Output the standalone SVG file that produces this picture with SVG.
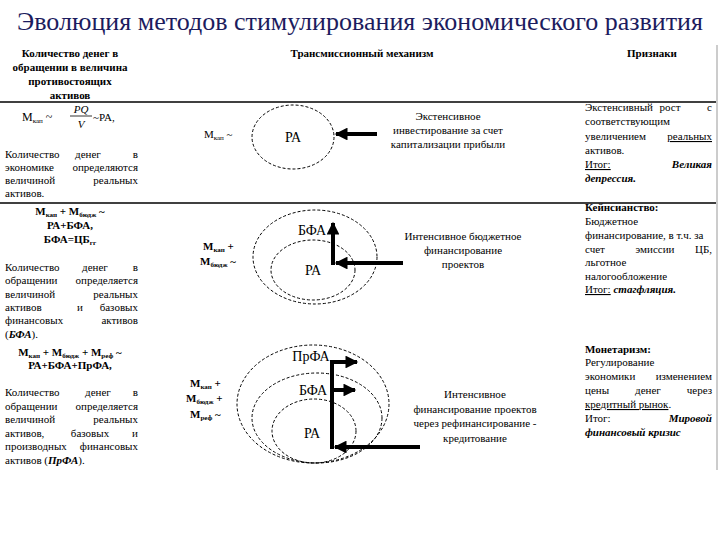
<svg xmlns="http://www.w3.org/2000/svg" width="720" height="540" viewBox="0 0 720 540" font-family="Liberation Serif">
<defs>
<marker id="ah" viewBox="0 0 10 10" refX="9" refY="5" markerWidth="3.4" markerHeight="3.2" orient="auto"><path d="M0,0 L10,5 L0,10 z" fill="#000"/></marker>
</defs>
<rect width="720" height="540" fill="#fff"/>
<text x="360" y="30" text-anchor="middle" font-family="Liberation Serif" font-size="26" fill="#1c1c5e">Эволюция методов стимулирования экономического развития</text>
<g id="frame" stroke="#000" stroke-width="1.5">
<line x1="0" y1="102" x2="716" y2="102"/>
<line x1="0" y1="203" x2="716" y2="203"/>
<line x1="717" y1="45" x2="717" y2="470" stroke="#999" stroke-width="1"/>
</g>
<g id="headers" font-size="11" font-weight="bold">
<text text-anchor="middle" font-family="Liberation Serif"><tspan x="70" y="57">Количество денег в</tspan><tspan x="70" y="71">обращении в величина</tspan><tspan x="70" y="85">противостоящих</tspan><tspan x="70" y="99">активов</tspan></text>
<text x="362" y="57" text-anchor="middle" font-family="Liberation Serif">Трансмиссионный механизм</text>
<text x="652" y="57" text-anchor="middle" font-family="Liberation Serif">Признаки</text>
</g>
<g id="left1" font-size="11">
<text x="22" y="121" font-size="12" font-family="Liberation Serif">M<tspan font-size="7" dy="2">кап</tspan><tspan dy="-2"> ~</tspan></text>
<text x="81" y="113" text-anchor="middle" font-style="italic" font-family="Liberation Serif">PQ</text>
<line x1="70" y1="116" x2="92" y2="116" stroke="#000" stroke-width="0.8"/>
<text x="81" y="128" text-anchor="middle" font-style="italic" font-family="Liberation Serif">V</text>
<text x="93" y="121" font-family="Liberation Serif">~PA,</text>
<text x="5" y="158" font-family="Liberation Serif">Количество</text><text x="88" y="158" text-anchor="middle" font-family="Liberation Serif">денег</text><text x="138" y="158" text-anchor="end" font-family="Liberation Serif">в</text>
<text x="5" y="171" font-family="Liberation Serif">экономике</text><text x="138" y="171" text-anchor="end" font-family="Liberation Serif">определяются</text>
<text x="5" y="184" font-family="Liberation Serif">величиной</text><text x="138" y="184" text-anchor="end" font-family="Liberation Serif">реальных</text>
<text x="5" y="197" font-family="Liberation Serif">активов.</text>
</g>
<g id="left2" font-size="11">
<text x="70" y="215" text-anchor="middle" font-weight="bold" font-family="Liberation Serif">M<tspan font-size="7" dy="2">кап</tspan><tspan dy="-2"> + M</tspan><tspan font-size="7" dy="2">бюдж</tspan><tspan dy="-2"> ~</tspan></text>
<text x="70" y="229" text-anchor="middle" font-weight="bold" font-family="Liberation Serif">РА+БФА,</text>
<text x="70" y="243" text-anchor="middle" font-weight="bold" font-family="Liberation Serif">БФА=ЦБ<tspan font-size="7" dy="2">гг</tspan></text>
<text x="5" y="271" font-family="Liberation Serif">Количество</text><text x="95" y="271" text-anchor="middle" font-family="Liberation Serif">денег</text><text x="138" y="271" text-anchor="end" font-family="Liberation Serif">в</text>
<text x="5" y="284" font-family="Liberation Serif">обращении</text><text x="138" y="284" text-anchor="end" font-family="Liberation Serif">определяется</text>
<text x="5" y="298" font-family="Liberation Serif">величиной</text><text x="138" y="298" text-anchor="end" font-family="Liberation Serif">реальных</text>
<text x="5" y="311" font-family="Liberation Serif">активов</text><text x="80" y="311" text-anchor="middle" font-family="Liberation Serif">и</text><text x="138" y="311" text-anchor="end" font-family="Liberation Serif">базовых</text>
<text x="5" y="324" font-family="Liberation Serif">финансовых</text><text x="138" y="324" text-anchor="end" font-family="Liberation Serif">активов</text>
<text x="5" y="338" font-family="Liberation Serif">(<tspan font-weight="bold" font-style="italic">БФА</tspan>).</text>
</g>
<g id="left3" font-size="11">
<text x="70" y="356" text-anchor="middle" font-weight="bold" font-family="Liberation Serif">M<tspan font-size="7" dy="2">кап</tspan><tspan dy="-2"> + M</tspan><tspan font-size="7" dy="2">бюдж</tspan><tspan dy="-2"> + M</tspan><tspan font-size="7" dy="2">реф</tspan><tspan dy="-2"> ~</tspan></text>
<text x="70" y="369" text-anchor="middle" font-weight="bold" font-family="Liberation Serif">РА+БФА+ПрФА,</text>
<text x="5" y="396" font-family="Liberation Serif">Количество</text><text x="98" y="396" text-anchor="middle" font-family="Liberation Serif">денег</text><text x="138" y="396" text-anchor="end" font-family="Liberation Serif">в</text>
<text x="5" y="410" font-family="Liberation Serif">обращении</text><text x="138" y="410" text-anchor="end" font-family="Liberation Serif">определяется</text>
<text x="5" y="423" font-family="Liberation Serif">величиной</text><text x="138" y="423" text-anchor="end" font-family="Liberation Serif">реальных</text>
<text x="5" y="437" font-family="Liberation Serif">активов,</text><text x="90" y="437" text-anchor="middle" font-family="Liberation Serif">базовых</text><text x="138" y="437" text-anchor="end" font-family="Liberation Serif">и</text>
<text x="5" y="450" font-family="Liberation Serif">производных</text><text x="138" y="450" text-anchor="end" font-family="Liberation Serif">финансовых</text>
<text x="5" y="464" font-family="Liberation Serif">активов (<tspan font-weight="bold" font-style="italic">ПрФА</tspan>).</text>
</g>
<g id="mech1" font-size="11">
<text x="204" y="138" font-family="Liberation Serif">M<tspan font-size="7" dy="2">кап</tspan><tspan dy="-2"> ~</tspan></text>
<g id="ra1"><ellipse cx="293" cy="137" rx="41" ry="32" fill="none" stroke="#000" stroke-width="1" stroke-dasharray="3 2"/><text x="293" y="142" text-anchor="middle" font-size="14" font-family="Liberation Serif">РА</text></g>
<text text-anchor="middle" font-family="Liberation Serif"><tspan x="448" y="120">Экстенсивное</tspan><tspan x="448" y="134">инвестирование за счет</tspan><tspan x="448" y="148">капитализации прибыли</tspan></text>
</g>
<g id="mech2" font-size="11">
<text x="203" y="250" font-weight="bold" font-family="Liberation Serif">M<tspan font-size="7" dy="2">кап</tspan><tspan dy="-2"> +</tspan></text>
<text x="200" y="265" font-weight="bold" font-family="Liberation Serif">M<tspan font-size="7" dy="2">бюдж</tspan><tspan dy="-2"> ~</tspan></text>
<g id="bfa2"><ellipse cx="315" cy="257" rx="62" ry="47" fill="none" stroke="#000" stroke-width="1" stroke-dasharray="3 2"/><text x="312" y="235" text-anchor="middle" font-size="14" font-family="Liberation Serif">БФА</text></g>
<g id="ra2"><ellipse cx="313" cy="270" rx="42" ry="30" fill="none" stroke="#000" stroke-width="1" stroke-dasharray="3 2"/><text x="313" y="275" text-anchor="middle" font-size="14" font-family="Liberation Serif">РА</text></g>
<text text-anchor="middle" font-family="Liberation Serif"><tspan x="463" y="240">Интенсивное бюджетное</tspan><tspan x="463" y="254">финансирование</tspan><tspan x="463" y="268">проектов</tspan></text>
</g>
<g id="mech3" font-size="11">
<text x="190" y="387" font-weight="bold" font-family="Liberation Serif">M<tspan font-size="7" dy="2">кап</tspan><tspan dy="-2"> +</tspan></text>
<text x="186" y="402" font-weight="bold" font-family="Liberation Serif">M<tspan font-size="7" dy="2">бюдж</tspan><tspan dy="-2"> +</tspan></text>
<text x="190" y="418" font-weight="bold" font-family="Liberation Serif">M<tspan font-size="7" dy="2">реф</tspan><tspan dy="-2">  ~</tspan></text>
<g id="prfa3"><ellipse cx="313" cy="404" rx="76" ry="59" fill="none" stroke="#000" stroke-width="1" stroke-dasharray="3 2"/><text x="311" y="361" text-anchor="middle" font-size="14" font-family="Liberation Serif">ПрФА</text></g>
<g id="bfa3"><ellipse cx="317" cy="418" rx="65" ry="45" fill="none" stroke="#000" stroke-width="1" stroke-dasharray="3 2"/><text x="313" y="395" text-anchor="middle" font-size="14" font-family="Liberation Serif">БФА</text></g>
<g id="ra3"><ellipse cx="314" cy="431" rx="42" ry="32" fill="none" stroke="#000" stroke-width="1" stroke-dasharray="3 2"/><text x="312" y="438" text-anchor="middle" font-size="14" font-family="Liberation Serif">РА</text></g>
<text text-anchor="middle" font-family="Liberation Serif"><tspan x="475" y="398">Интенсивное</tspan><tspan x="475" y="413">финансирование проектов</tspan><tspan x="475" y="427">через рефинансирование -</tspan><tspan x="475" y="442">кредитование</tspan></text>
</g>
<g id="connectors" stroke="#000" stroke-width="4" fill="none">
<line x1="377" y1="134" x2="336" y2="134" marker-end="url(#ah)"/>
<line x1="403" y1="263" x2="336" y2="263" marker-end="url(#ah)"/>
<line x1="333" y1="265" x2="333" y2="223" marker-end="url(#ah)"/>
<line x1="332" y1="449" x2="332" y2="360"/>
<line x1="332" y1="362" x2="357" y2="362" marker-end="url(#ah)"/>
<line x1="332" y1="390" x2="355" y2="390" marker-end="url(#ah)"/>
<line x1="420" y1="447" x2="335" y2="447" marker-end="url(#ah)"/>
</g>
<g id="right1" font-size="11">
<text x="585" y="111" font-family="Liberation Serif">Экстенсивный</text><text x="670" y="111" text-anchor="middle" font-family="Liberation Serif">рост</text><text x="712" y="111" text-anchor="end" font-family="Liberation Serif">с</text>
<text x="585" y="125" font-family="Liberation Serif">соответствующим</text>
<text x="585" y="140" font-family="Liberation Serif">увеличением</text><text x="712" y="140" text-anchor="end" text-decoration="underline" font-family="Liberation Serif">реальных</text>
<text x="585" y="154" font-family="Liberation Serif">активов.</text>
<text x="585" y="168" text-decoration="underline" font-family="Liberation Serif">Итог:</text><text x="712" y="168" text-anchor="end" font-weight="bold" font-style="italic" font-family="Liberation Serif">Великая</text>
<text x="585" y="182" font-weight="bold" font-style="italic" font-family="Liberation Serif">депрессия.</text>
</g>
<g id="right2" font-size="11">
<text x="585" y="211" font-weight="bold" font-family="Liberation Serif">Кейнсианство:</text>
<text x="585" y="225" font-family="Liberation Serif">Бюджетное</text>
<text x="585" y="239" font-family="Liberation Serif">финансирование, в т.ч. за</text>
<text x="585" y="253" font-family="Liberation Serif">счет</text><text x="655" y="253" text-anchor="middle" font-family="Liberation Serif">эмиссии</text><text x="712" y="253" text-anchor="end" font-family="Liberation Serif">ЦБ,</text>
<text x="585" y="266" font-family="Liberation Serif">льготное</text>
<text x="585" y="280" font-family="Liberation Serif">налогообложение</text>
<text x="585" y="293" font-family="Liberation Serif"><tspan text-decoration="underline">Итог:</tspan> <tspan font-weight="bold" font-style="italic">стагфляция.</tspan></text>
</g>
<g id="right3" font-size="11">
<text x="585" y="353" font-weight="bold" font-family="Liberation Serif">Монетаризм:</text>
<text x="585" y="366" font-family="Liberation Serif">Регулирование</text>
<text x="585" y="380" font-family="Liberation Serif">экономики</text><text x="712" y="380" text-anchor="end" font-family="Liberation Serif">изменением</text>
<text x="585" y="394" font-family="Liberation Serif">цены</text><text x="648" y="394" text-anchor="middle" font-family="Liberation Serif">денег</text><text x="712" y="394" text-anchor="end" font-family="Liberation Serif">через</text>
<text x="585" y="408" font-family="Liberation Serif"><tspan text-decoration="underline">кредитный рынок</tspan>.</text>
<text x="585" y="422" font-family="Liberation Serif">Итог:</text><text x="712" y="422" text-anchor="end" font-weight="bold" font-style="italic" font-family="Liberation Serif">Мировой</text>
<text x="585" y="436" font-weight="bold" font-style="italic" font-family="Liberation Serif">финансовый кризис</text>
</g>
</svg>
